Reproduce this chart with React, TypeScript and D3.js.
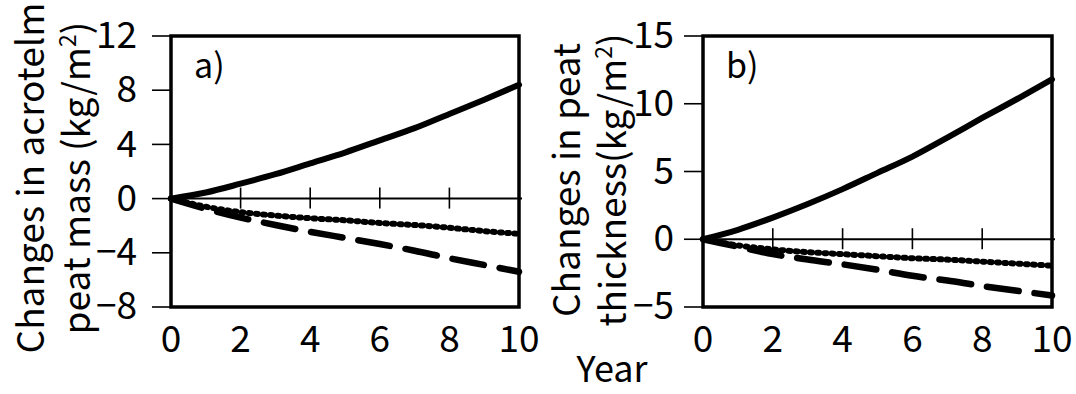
import React, { useEffect, useRef } from 'react';
import * as d3 from 'd3';

// years on the x axis
const years = [0, 1, 2, 3, 4, 5, 6, 7, 8, 9, 10];
const xTicks = [0, 2, 4, 6, 8, 10];

// a) changes in acrotelm peat mass (kg/m2)
const massSolid = [0, 0.45, 1.1, 1.8, 2.6, 3.4, 4.3, 5.2, 6.25, 7.3, 8.4];
const massDotted = [0, -0.6, -1.0, -1.25, -1.45, -1.6, -1.8, -1.95, -2.15, -2.4, -2.6];
const massDashed = [0, -0.75, -1.4, -1.95, -2.45, -2.9, -3.35, -3.85, -4.4, -4.9, -5.4];
const massTicks = [-8, -4, 0, 4, 8, 12];

// b) changes in peat thickness
const thickSolid = [0, 0.7, 1.6, 2.6, 3.7, 4.9, 6.1, 7.5, 8.95, 10.35, 11.8];
const thickDotted = [0, -0.45, -0.75, -0.95, -1.1, -1.25, -1.4, -1.5, -1.65, -1.8, -1.95];
const thickDashed = [0, -0.55, -1.1, -1.5, -1.85, -2.25, -2.7, -3.05, -3.45, -3.8, -4.15];
const thickTicks = [-5, 0, 5, 10, 15];

const FONT = '"Noto Sans CJK JP", "Noto Sans", sans-serif';
const W = 1076;
const H = 394;

const App = () => {
  const ref = useRef<SVGSVGElement>(null);

  useEffect(() => {
    const svg = d3.select(ref.current);
    svg.selectAll('*').remove();

    const panels = [
      {
        label: 'a)', left: 171, right: 519, ticks: massTicks,
        series: [massSolid, massDashed, massDotted],
        title: ['Changes in acrotelm', 'peat mass (kg/m'], titleX: [44, 90], titleY: 178,
        labelGap: 34,
      },
      {
        label: 'b)', left: 703, right: 1052, ticks: thickTicks,
        series: [thickSolid, thickDashed, thickDotted],
        title: ['Changes in peat', 'thickness(kg/m'], titleX: [580, 626], titleY: 180,
        labelGap: 29,
      },
    ];
    const top = 36;
    const bottom = 307;

    panels.forEach(p => {
      const x = d3.scaleLinear().domain([0, 10]).range([p.left, p.right]);
      const y = d3.scaleLinear().domain([p.ticks[0], p.ticks[p.ticks.length - 1]]).range([bottom, top]);
      const g = svg.append('g');

      // y ticks pointing outward
      g.selectAll('.ytick').data(p.ticks).enter().append('line')
        .attr('x1', p.left - 19).attr('x2', p.left)
        .attr('y1', d => y(d)).attr('y2', d => y(d))
        .attr('stroke', '#000').attr('stroke-width', 1.6);

      g.selectAll('.ylab').data(p.ticks).enter().append('text')
        .attr('x', p.left - p.labelGap).attr('y', d => y(d))
        .attr('dy', '0.33em')
        .attr('text-anchor', 'end')
        .style('font-family', FONT).style('font-size', '37px')
        .text(d => d < 0 ? `\u2212${Math.abs(d)}` : `${d}`);

      // zero line with crossing ticks
      g.append('line')
        .attr('x1', p.left).attr('x2', p.right + 3)
        .attr('y1', y(0)).attr('y2', y(0))
        .attr('stroke', '#000').attr('stroke-width', 2);
      g.selectAll('.xtick').data(xTicks.slice(1, -1)).enter().append('line')
        .attr('x1', d => x(d)).attr('x2', d => x(d))
        .attr('y1', y(0) - 11).attr('y2', y(0) + 10)
        .attr('stroke', '#000').attr('stroke-width', 1.6);

      g.selectAll('.xlab').data(xTicks).enter().append('text')
        .attr('x', d => x(d)).attr('y', 352)
        .attr('text-anchor', 'middle')
        .style('font-family', FONT).style('font-size', '37px')
        .text(d => d);

      // frame
      g.append('rect')
        .attr('x', p.left).attr('y', top)
        .attr('width', p.right - p.left).attr('height', bottom - top)
        .attr('fill', 'none').attr('stroke', '#000').attr('stroke-width', 3.5);

      // series
      const line = d3.line<number>()
        .x((d, i) => x(years[i]))
        .y(d => y(d))
        .curve(d3.curveMonotoneX);
      const styles = [
        { dash: null, width: 6 },
        { dash: '32 16', width: 6.5 },
        { dash: '1.8 5.4', width: 6 },
      ];
      p.series.forEach((s, i) => {
        g.append('path')
          .attr('d', line(s))
          .attr('fill', 'none')
          .attr('stroke', '#000')
          .attr('stroke-width', styles[i].width)
          .attr('stroke-linecap', 'round')
          .attr('stroke-dasharray', styles[i].dash);
      });

      // panel label
      g.append('text')
        .attr('x', p.left + 23).attr('y', 78)
        .style('font-family', FONT).style('font-size', '34px')
        .text(p.label);

      // y title, two rotated lines
      p.title.forEach((t, i) => {
        const tx = g.append('text')
          .attr('transform', `translate(${p.titleX[i]},${p.titleY}) rotate(-90)`)
          .attr('text-anchor', 'middle')
          .style('font-family', FONT).style('font-size', '37px');
        if (i === 0) {
          tx.text(t);
        } else {
          tx.append('tspan').text(t);
          tx.append('tspan').attr('dy', -14).style('font-size', '23px').text('2');
          tx.append('tspan').attr('dy', 14).text(')');
        }
      });
    });

    svg.append('text')
      .attr('x', 612).attr('y', 382)
      .attr('text-anchor', 'middle')
      .style('font-family', FONT).style('font-size', '36px')
      .text('Year');
  }, []);

  return (
    <svg ref={ref} width={W} height={H}
      style={{ position: 'absolute', left: 0, top: 0, background: '#fff' }} />
  );
};

export default App;
